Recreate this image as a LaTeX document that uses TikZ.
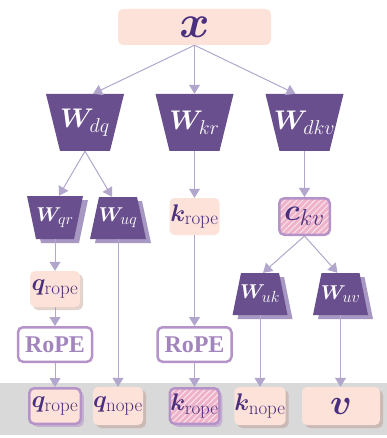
\RequirePackage{fix-cm}
\documentclass[tikz,border=0pt]{standalone}
\usepackage[no-math]{fontspec}
\usepackage{amsmath,bm,graphicx}
\usetikzlibrary{arrows.meta,calc,shadows}
\newfontfamily\ropefont{Liberation Serif}
\DeclareMathSizes{27}{27}{20}{14}
\DeclareMathSizes{20}{20}{16}{11}
\DeclareMathSizes{24}{24}{19}{14}
\DeclareMathSizes{30}{30}{23}{16}
\DeclareMathSizes{36}{36}{26}{18}
\DeclareMathSizes{46}{46}{32}{23}
\definecolor{wpurple}{HTML}{694F8E}
\definecolor{wshadow}{HTML}{A797C3}
\definecolor{pinkfill}{HTML}{FDE2D9}
\definecolor{pinkshadow}{HTML}{B08070}
\definecolor{lav}{HTML}{B593C9}
\definecolor{ropetext}{HTML}{A385BD}
\definecolor{arrowc}{HTML}{B2A6CC}
\definecolor{txtc}{HTML}{4A2F7E}
\definecolor{band}{HTML}{D9D9D9}
\definecolor{hatchbase}{HTML}{FBE6EC}
\definecolor{hatchline}{HTML}{EEB3CB}
\newcommand\trapfill[6]{\fill[#6] ({#1-#4},#2) -- ({#1+#4},#2) -- ({#1+#5},#3) -- ({#1-#5},#3) -- cycle;}
\tikzset{
  box/.style={rectangle, rounded corners=5pt, fill=pinkfill, inner sep=0pt, text=txtc,
    font=\fontsize{24}{24}\selectfont},
  shbox/.style={box, general shadow={shadow xshift=3pt, shadow yshift=-3pt, fill=pinkshadow, opacity=.35}},
  lavshbox/.style={box, general shadow={shadow xshift=3pt, shadow yshift=-3pt, fill=lav, opacity=.55}},
  bordered/.style={draw=lav, line width=2.5pt},
  hatched/.style={fill=hatchbase, path picture={
      \foreach \i in {-90,-84,...,90}{
        \draw[hatchline, line width=3pt]
          ($(path picture bounding box.center)+(\i pt,-45pt)$) -- ++(90pt,90pt);}}},
  ropebox/.style={rectangle, rounded corners=5pt, draw=lav, line width=2.5pt, fill=white,
    inner sep=0pt, text=ropetext, minimum width=74, minimum height=34.5,
    font=\ropefont\fontsize{24}{24}\selectfont\bfseries},
  wlab/.style={rectangle, inner sep=0pt, text=white},
  wbig/.style={wlab, font=\fontsize{27}{27}\selectfont},
  wsmall/.style={wlab, font=\fontsize{20}{20}\selectfont},
  arr/.style={draw=arrowc, line width=1pt, -{Triangle[width=11pt,length=9pt]}},
}
\begin{document}
\begin{tikzpicture}[x=1pt,y=-1pt]
\useasboundingbox (0,0) rectangle (387,438);
\fill[band] (0,383) rectangle (387,435);

% input
\node[box, minimum width=153, minimum height=36, font=\fontsize{46}{46}\selectfont] (x) at (194.5,27) {$\bm{x}$};

% first projections
\trapfill{85}{94}{151}{39}{25}{wpurple}
\node[wbig, minimum width=78, minimum height=57] (Wdq) at (85,122.5) {$\bm{W}_{dq}$};
\trapfill{194.5}{94}{151}{39}{25}{wpurple}
\node[wbig, minimum width=78, minimum height=57] (Wkr) at (194.5,122.5) {$\bm{W}_{kr}$};
\trapfill{304.5}{94}{151}{39}{25}{wpurple}
\node[wbig, minimum width=78, minimum height=57] (Wdkv) at (304.5,122.5) {$\bm{W}_{dkv}$};

% second level
\trapfill{60}{200}{243}{28}{19}{wshadow}
\trapfill{55}{196}{239}{28}{19}{wpurple}
\node[wsmall, minimum width=56, minimum height=43] (Wqr) at (55,217.5) {$\bm{W}_{qr}$};
\trapfill{123}{201}{243}{19}{28}{wshadow}
\trapfill{118}{197}{239}{19}{28}{wpurple}
\node[wsmall, minimum width=56, minimum height=42] (Wuq) at (118,218) {$\bm{W}_{uq}$};

\node[box, minimum width=50, minimum height=37] (krope1) at (194.5,216.5) {$\bm{k}_{\mathrm{rope}}$};
\node[box, bordered, hatched, minimum width=50.5, minimum height=36.5, font=\fontsize{30}{30}\selectfont] (ckv) at (304.5,216.5) {$\bm{c}_{kv}$};

% third level
\node[shbox, minimum width=50, minimum height=36] (qrope1) at (55,289) {$\bm{q}_{\mathrm{rope}}$};
\trapfill{265}{277}{319}{19}{27.5}{wshadow}
\trapfill{260}{273}{315}{19}{27.5}{wpurple}
\node[wsmall, minimum width=55, minimum height=42] (Wuk) at (260,294) {$\bm{W}_{uk}$};
\trapfill{345.5}{277}{319}{19}{27.5}{wshadow}
\trapfill{340.5}{273}{315}{19}{27.5}{wpurple}
\node[wsmall, minimum width=55, minimum height=42] (Wuv) at (340.5,294) {$\bm{W}_{uv}$};

% RoPE
\node[ropebox] (rope1) at (55,344.5) {RoPE};
\node[ropebox] (rope2) at (194.5,344.5) {RoPE};

% outputs
\node[lavshbox, bordered, minimum width=51.5, minimum height=35.5] (qrope2) at (55,406) {$\bm{q}_{\mathrm{rope}}$};
\node[shbox, minimum width=50, minimum height=38] (qnope) at (118,406) {$\bm{q}_{\mathrm{nope}}$};
\node[lavshbox, bordered, hatched, minimum width=49.5, minimum height=35.5] (krope2) at (194.5,406) {$\bm{k}_{\mathrm{rope}}$};
\node[shbox, minimum width=50, minimum height=38] (knope) at (260,406) {$\bm{k}_{\mathrm{nope}}$};
\node[shbox, minimum width=78, minimum height=38, font=\fontsize{36}{36}\selectfont] (v) at (341,406) {$\bm{v}$};

% connectors
\draw[arr] (x.south) -- ([xshift=8pt]Wdq.north);
\draw[arr] (x.south) -- (Wkr.north);
\draw[arr] (x.south) -- ([xshift=-9pt]Wdkv.north);
\draw[arr] (Wdq.south) -- ([xshift=4pt]Wqr.north);
\draw[arr] (Wdq.south) -- ([xshift=-6pt]Wuq.north);
\draw[arr] (Wkr.south) -- (Wkr.south |- krope1.north);
\draw[arr] (Wdkv.south) -- (Wdkv.south |- ckv.north);
\draw[arr] (Wqr.south) -- (Wqr.south |- qrope1.north);
\draw[arr] (qrope1.south) -- (qrope1.south |- rope1.north);
\draw[arr] (rope1.south) -- (rope1.south |- qrope2.north);
\draw[arr] (Wuq.south) -- (Wuq.south |- qnope.north);
\draw[arr] (krope1.south) -- (krope1.south |- rope2.north);
\draw[arr] (rope2.south) -- (rope2.south |- krope2.north);
\draw[arr] (ckv.south) -- ([xshift=3pt]Wuk.north);
\draw[arr] (ckv.south) -- ([xshift=-3pt]Wuv.north);
\draw[arr] (Wuk.south) -- (Wuk.south |- knope.north);
\draw[arr] (Wuv.south) -- (Wuv.south |- v.north);
\end{tikzpicture}
\end{document}
